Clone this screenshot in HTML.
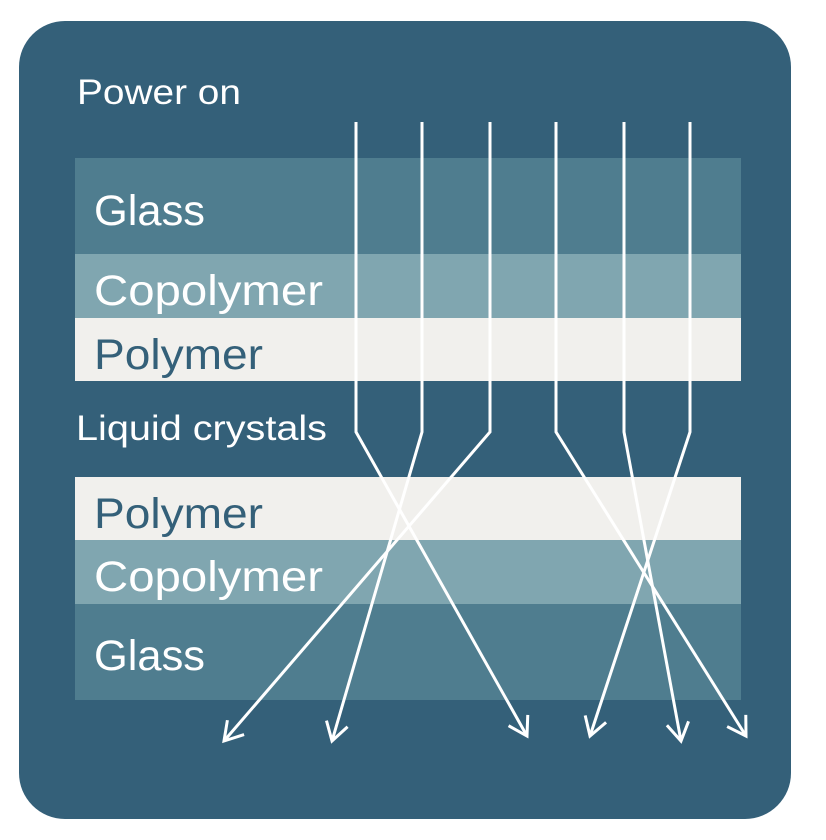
<!DOCTYPE html>
<html><head><style>
html,body{margin:0;padding:0;background:#fff;}
svg{display:block;}
text{font-family:"Liberation Sans",sans-serif;}
</style></head><body>
<svg width="826" height="840" viewBox="0 0 826 840">
<defs>
<marker id="a" markerUnits="userSpaceOnUse" markerWidth="40" markerHeight="40" refX="0" refY="0" viewBox="-20 -20 40 40" orient="auto">
<path d="M-18,-11 L0,0 L-18,11" fill="none" stroke="#fff" stroke-width="3"/>
</marker>
</defs>
<rect x="19" y="21" width="772" height="798" rx="46" fill="#346079"/>
<rect x="75" y="158" width="666" height="97" fill="#4f7d8f"/>
<rect x="75" y="254" width="666" height="64" fill="#80a6b0"/>
<rect x="75" y="318" width="666" height="63" fill="#f1f0ed"/>
<rect x="75" y="477" width="666" height="63" fill="#f1f0ed"/>
<rect x="75" y="540" width="666" height="64" fill="#80a6b0"/>
<rect x="75" y="604" width="666" height="96" fill="#4f7d8f"/>
<text x="77" y="104" font-size="35" fill="#fff" textLength="164" lengthAdjust="spacingAndGlyphs">Power on</text>
<text x="94" y="225" font-size="43" fill="#fff" textLength="111" lengthAdjust="spacingAndGlyphs">Glass</text>
<text x="94" y="305" font-size="43" fill="#fff" textLength="229" lengthAdjust="spacingAndGlyphs">Copolymer</text>
<text x="94" y="369" font-size="43" fill="#346079" textLength="169" lengthAdjust="spacingAndGlyphs">Polymer</text>
<text x="76" y="440" font-size="35" fill="#fff" textLength="251" lengthAdjust="spacingAndGlyphs">Liquid crystals</text>
<text x="94" y="528" font-size="43" fill="#346079" textLength="169" lengthAdjust="spacingAndGlyphs">Polymer</text>
<text x="94" y="591" font-size="43" fill="#fff" textLength="229" lengthAdjust="spacingAndGlyphs">Copolymer</text>
<text x="94" y="670" font-size="43" fill="#fff" textLength="111" lengthAdjust="spacingAndGlyphs">Glass</text>
<g fill="none" stroke="#fff" stroke-width="3" marker-end="url(#a)">
<polyline points="356,122 356,432 527,736"/>
<polyline points="422,122 422,432 332,741"/>
<polyline points="490,122 490,432 224,741"/>
<polyline points="556,122 556,432 746,736"/>
<polyline points="624,122 624,432 681,741"/>
<polyline points="690,122 690,432 590,736"/>
</g>
</svg>
</body></html>
